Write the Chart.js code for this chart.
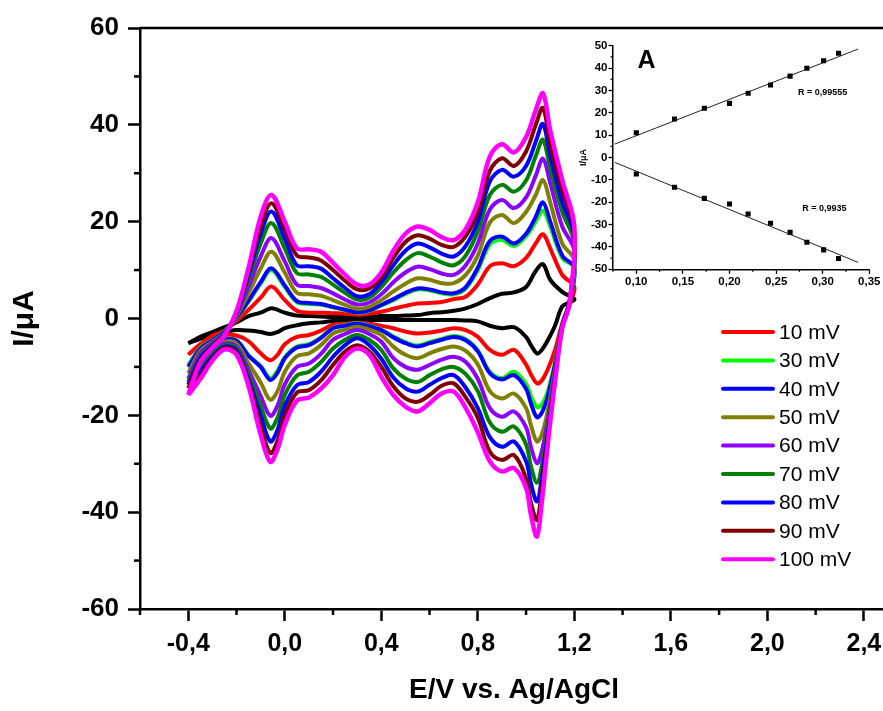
<!DOCTYPE html>
<html>
<head>
<meta charset="utf-8">
<script src="https://cdn.jsdelivr.net/npm/chart.js@4.4.1/dist/chart.umd.min.js"></script>
<style>
  html, body { margin: 0; padding: 0; background: #fff; overflow: hidden; }
  #wrap { position: relative; width: 883px; height: 711px; overflow: hidden; }
  #cv { position: absolute; left: 0; top: 0; }
  #inset { position: absolute; left: 560px; top: 36px; }
</style>
</head>
<body>
<div id="wrap">
  <canvas id="cv" width="900" height="711"></canvas>
  <canvas id="inset" width="323" height="260"></canvas>
</div>
<script>
// potentials (V) of the anodic (forward) and cathodic (reverse) sweeps
const fwdE = [-0.40, -0.35, -0.30, -0.25, -0.20, -0.15, -0.10, -0.055, 0.00, 0.05, 0.10, 0.15, 0.20, 0.25, 0.30, 0.35, 0.40, 0.45, 0.50, 0.55, 0.60, 0.65, 0.70, 0.75, 0.80, 0.85, 0.90, 0.95, 1.00, 1.04, 1.07, 1.10, 1.15, 1.20];
const revE = [1.18, 1.15, 1.12, 1.09, 1.065, 1.045, 1.02, 1.00, 0.95, 0.90, 0.85, 0.80, 0.75, 0.70, 0.65, 0.60, 0.55, 0.50, 0.45, 0.40, 0.35, 0.30, 0.25, 0.20, 0.15, 0.10, 0.05, 0.00, -0.03, -0.06, -0.10, -0.15, -0.20, -0.25, -0.30, -0.35, -0.40];

// currents (uA)
const fwdBlack = [-5.1, -3.8, -2.8, -1.8, -0.8, 0.5, 1.2, 2.1, 1.2, 0.6, 0.5, 0.4, 0.3, 0.3, 0.3, 0.4, 0.5, 0.5, 0.6, 0.7, 1.1, 1.3, 1.6, 2.1, 3.0, 4.2, 5.1, 5.4, 6.5, 9.8, 11.2, 8.0, 5.5, 4.0];
const revBlack = [3.3, 2.5, -1.5, -4.5, -6.5, -7.2, -5.5, -3.8, -1.8, -2.0, -1.5, -0.6, -0.4, -0.3, -0.3, -0.3, -0.3, -0.3, -0.3, -0.3, -0.3, -0.3, -0.4, -0.5, -0.8, -1.0, -1.4, -2.0, -2.8, -3.2, -2.8, -2.5, -2.4, -2.8, -3.4, -4.2, -5.1];

const fwd10 = [-7.5, -5.4, -3.5, -2.5, -0.5, 1.8, 4.3, 6.6, 3.8, 1.6, 1.2, 1.2, 1.1, 1.0, 0.8, 1.0, 1.4, 2.0, 2.6, 3.1, 3.2, 3.4, 4.0, 4.5, 7.0, 10.8, 11.4, 10.8, 12.5, 15.5, 17.4, 14.5, 9.0, 6.5];
const rev10 = [3.0, -1.0, -6.5, -10.5, -12.8, -13.4, -11.5, -9.5, -6.5, -7.5, -6.5, -3.8, -2.4, -2.0, -2.5, -2.9, -3.1, -2.7, -2.0, -1.5, -1.1, -0.9, -1.1, -1.3, -2.5, -3.4, -3.8, -5.3, -7.5, -8.6, -7.2, -4.7, -3.5, -3.4, -4.0, -5.3, -7.5];

const fwd30 = [-9.6, -6.0, -4.4, -2.6, 0.1, 3.5, 7.2, 10.0, 6.5, 3.4, 3.0, 2.9, 2.3, 1.7, 1.2, 1.6, 2.7, 3.8, 5.1, 6.0, 5.8, 5.2, 5.0, 6.2, 10.0, 15.3, 16.2, 15.0, 17.0, 20.0, 22.3, 19.0, 12.5, 10.5];
const rev30 = [3.4, -1.5, -9.0, -15.0, -17.8, -18.3, -16.0, -13.5, -11.0, -12.3, -11.0, -6.6, -4.3, -3.6, -4.2, -4.9, -5.6, -4.9, -3.7, -2.3, -1.5, -1.0, -1.4, -1.9, -3.9, -5.3, -5.8, -8.0, -10.8, -12.3, -9.8, -7.6, -4.5, -4.3, -5.6, -7.8, -9.6];

const fwd40 = [-10.0, -6.2, -4.5, -2.7, 0.2, 3.7, 7.5, 10.4, 6.8, 3.6, 3.2, 3.0, 2.4, 1.8, 1.3, 1.7, 2.8, 4.0, 5.3, 6.2, 6.0, 5.4, 5.2, 6.5, 10.5, 16.0, 16.9, 15.5, 17.5, 21.0, 24.0, 20.0, 13.0, 10.5];
const rev40 = [3.4, -1.5, -9.5, -16.0, -19.5, -20.4, -17.5, -14.5, -11.7, -12.6, -11.3, -6.8, -4.5, -3.8, -4.4, -5.1, -5.8, -5.1, -3.9, -2.4, -1.6, -1.1, -1.5, -2.0, -4.0, -5.5, -6.0, -8.2, -11.2, -12.7, -10.0, -7.7, -4.6, -4.4, -5.7, -8.0, -10.0];

const fwd50 = [-11.3, -6.7, -4.8, -2.9, 0.5, 5.2, 10.3, 13.8, 9.5, 5.3, 5.0, 4.7, 3.8, 2.8, 2.0, 2.4, 3.8, 5.6, 7.2, 8.3, 8.0, 7.3, 7.3, 9.0, 13.0, 19.8, 21.4, 19.7, 22.0, 25.5, 28.6, 24.0, 15.5, 12.0];
const rev50 = [3.4, -1.5, -10.5, -19.0, -24.0, -25.4, -22.0, -18.5, -15.5, -16.5, -15.0, -9.5, -6.7, -5.8, -6.3, -7.2, -8.2, -7.5, -5.8, -3.4, -2.3, -1.7, -2.3, -3.1, -5.5, -7.2, -7.8, -11.0, -15.0, -16.8, -13.2, -9.3, -5.2, -4.8, -6.4, -8.8, -11.3];

const fwd60 = [-12.4, -7.2, -5.0, -3.0, 0.8, 6.6, 12.8, 16.6, 11.8, 7.0, 6.7, 6.3, 5.2, 3.9, 2.9, 3.3, 5.0, 7.5, 9.5, 10.7, 10.2, 9.3, 9.0, 11.0, 15.5, 22.5, 24.5, 22.8, 25.0, 29.5, 33.0, 28.0, 19.0, 14.0];
const rev60 = [3.4, -1.5, -11.0, -21.0, -27.5, -29.9, -26.5, -22.5, -19.2, -20.3, -18.5, -12.5, -9.0, -7.9, -8.5, -9.6, -10.6, -10.0, -8.2, -4.8, -3.2, -2.4, -3.2, -4.4, -7.3, -9.3, -10.0, -13.6, -18.0, -20.1, -16.0, -10.7, -5.8, -5.2, -6.9, -9.7, -12.4];

const fwd70 = [-13.1, -7.8, -5.3, -3.2, 1.0, 8.0, 15.5, 19.7, 14.5, 9.4, 9.1, 8.6, 7.0, 5.3, 3.9, 4.3, 6.5, 9.5, 12.0, 13.5, 12.8, 11.6, 11.0, 13.0, 18.0, 25.5, 27.6, 26.2, 28.5, 33.5, 36.9, 31.0, 22.0, 15.5];
const rev70 = [3.4, -1.5, -11.5, -22.5, -30.5, -33.9, -30.5, -26.0, -22.3, -23.4, -21.5, -15.0, -11.5, -10.0, -10.5, -11.7, -13.1, -12.4, -10.3, -6.5, -4.4, -3.4, -4.4, -6.2, -9.0, -11.0, -11.8, -15.8, -20.5, -22.7, -18.0, -11.7, -6.2, -5.5, -7.4, -10.5, -13.1];

const fwd80 = [-13.7, -8.2, -5.6, -3.3, 1.2, 9.0, 17.5, 22.1, 16.5, 11.0, 10.8, 10.3, 8.3, 6.3, 4.6, 5.0, 7.5, 11.0, 14.0, 15.5, 14.7, 13.4, 12.8, 15.0, 20.0, 28.3, 30.7, 29.3, 31.5, 36.5, 40.2, 33.5, 24.0, 17.0];
const rev80 = [3.3, -1.6, -12.0, -24.0, -33.0, -37.8, -34.0, -29.5, -25.4, -26.5, -24.5, -18.5, -14.3, -11.7, -12.3, -13.7, -15.1, -14.4, -12.2, -8.3, -5.5, -4.1, -5.5, -7.9, -11.0, -13.1, -13.8, -18.0, -23.0, -25.4, -20.0, -12.6, -6.6, -5.8, -7.9, -11.0, -13.7];

const fwd90 = [-14.4, -8.6, -5.8, -3.4, 1.3, 9.8, 19.0, 23.8, 18.5, 13.0, 12.6, 12.0, 10.0, 7.8, 6.0, 6.2, 8.5, 12.5, 15.8, 17.2, 16.5, 15.2, 14.8, 17.0, 22.0, 30.5, 33.1, 31.5, 34.5, 40.0, 43.5, 36.0, 26.5, 18.0];
const rev90 = [3.3, -1.8, -12.5, -25.0, -35.5, -41.6, -38.0, -33.0, -28.2, -29.2, -27.5, -20.5, -16.3, -13.4, -13.9, -15.8, -17.2, -16.5, -14.0, -10.0, -6.8, -5.5, -6.8, -9.6, -12.8, -14.8, -15.3, -20.0, -25.3, -27.8, -22.0, -13.3, -7.0, -6.1, -8.3, -11.7, -14.4];

const fwd100 = [-15.8, -9.0, -6.0, -3.5, 1.5, 10.5, 21.0, 25.5, 20.0, 14.5, 14.3, 13.8, 11.5, 9.0, 7.0, 7.0, 9.5, 14.0, 17.5, 19.0, 18.3, 16.8, 16.2, 18.5, 24.0, 33.5, 36.0, 34.3, 37.5, 43.0, 46.5, 38.9, 28.6, 19.0];
const rev100 = [3.0, -2.0, -13.0, -26.0, -38.0, -45.0, -40.5, -35.0, -30.9, -31.6, -29.5, -23.5, -18.5, -15.1, -15.5, -17.5, -19.2, -18.2, -15.8, -12.0, -7.5, -6.2, -7.9, -11.7, -14.5, -16.3, -17.0, -22.0, -27.0, -29.6, -24.0, -14.0, -7.5, -6.4, -8.7, -12.5, -15.8];

const scanNames = ['10 mV', '30 mV', '40 mV', '50 mV', '60 mV', '70 mV', '80 mV', '90 mV', '100 mV'];
const scanColors = ['#ff0000', '#00ff00', '#0000ff', '#808000', '#8c00ff', '#008000', '#0000ff', '#800000', '#ff00ff'];

// main axis ticks (labelled ones are the majors)
const eTicks = [-0.6, -0.4, -0.2, 0.0, 0.2, 0.4, 0.6, 0.8, 1.0, 1.2, 1.4, 1.6, 1.8, 2.0, 2.2, 2.4];
const eLabels = ['', '-0,4', '', '0,0', '', '0,4', '', '0,8', '', '1,2', '', '1,6', '', '2,0', '', '2,4'];
const iTicks = [-60, -50, -40, -30, -20, -10, 0, 10, 20, 30, 40, 50, 60];
const iLabels = ['-60', '', '-40', '', '-20', '', '0', '', '20', '', '40', '', '60'];

// inset: peak current vs square root of scan rate
const rootScan = [0.100, 0.141, 0.173, 0.200, 0.220, 0.244, 0.265, 0.283, 0.301, 0.317];
const anodicPeak = [11.1, 17.2, 22.0, 24.2, 28.7, 32.4, 36.4, 39.9, 43.3, 46.6];
const cathodicPeak = [-7.4, -13.3, -18.3, -20.8, -25.3, -29.4, -33.5, -37.9, -41.3, -45.2];
const fitX = [0.077, 0.338];
const anodicFit = [6.0, 48.5];
const cathodicFit = [-2.2, -46.9];
const rTicks = [0.075, 0.100, 0.125, 0.150, 0.175, 0.200, 0.225, 0.250, 0.275, 0.300, 0.325, 0.350];
const rLabels = ['', '0,10', '', '0,15', '', '0,20', '', '0,25', '', '0,30', '', '0,35'];
const pTicks = [-50, -45, -40, -35, -30, -25, -20, -15, -10, -5, 0, 5, 10, 15, 20, 25, 30, 35, 40, 45, 50];
const pLabels = pTicks.map(v => v % 10 === 0 ? String(v) : '');

const FONT = "'Liberation Sans', Arial, sans-serif";
Chart.defaults.font.family = FONT;
Chart.defaults.color = '#000';

function loop(fw, rv) {
  return fwdE.map((e, i) => ({x: e, y: fw[i]}))
    .concat(revE.map((e, i) => ({x: e, y: rv[i]})));
}

const curves = [
  [fwd10, rev10], [fwd30, rev30], [fwd40, rev40], [fwd50, rev50], [fwd60, rev60],
  [fwd70, rev70], [fwd80, rev80], [fwd90, rev90], [fwd100, rev100]
];

// first dataset is drawn on top, so go from 100 mV down to the black one
const datasets = [];
for (let i = curves.length - 1; i >= 0; i--) {
  datasets.push({
    label: scanNames[i],
    data: loop(curves[i][0], curves[i][1]),
    borderColor: scanColors[i],
    borderWidth: i === curves.length - 1 ? 4.5 : 4
  });
}
datasets.push({label: '', data: loop(fwdBlack, revBlack), borderColor: '#000', borderWidth: 4});
datasets.forEach(d => {
  d.showLine = true;
  d.pointRadius = 0;
  d.tension = 0.35;
  d.fill = false;
});

// fixed tick lists; unlabelled ticks are minor ones
function fixTicks(values) {
  return scale => { scale.ticks = values.map(v => ({value: v})); };
}
function labelOf(values, labels) {
  return (v, i) => labels[i];
}
function isMinor(labels) {
  return c => labels[c.index] === '';
}

// short minor ticks + frame lines
const minorTicks = {
  id: 'minorTicks',
  afterDraw(chart, args, opts) {
    const ctx = chart.ctx;
    const xs = chart.scales.x, ys = chart.scales.y;
    ctx.save();
    ctx.strokeStyle = '#000';
    ctx.lineWidth = opts.width;
    xs.ticks.forEach((t, i) => {
      if (opts.xLabels[i] !== '') return;
      const px = xs.getPixelForValue(t.value);
      ctx.beginPath();
      ctx.moveTo(px, xs.top);
      ctx.lineTo(px, xs.top + opts.len);
      ctx.stroke();
    });
    ys.ticks.forEach((t, i) => {
      if (opts.yLabels[i] !== '') return;
      const py = ys.getPixelForValue(t.value);
      ctx.beginPath();
      ctx.moveTo(ys.right, py);
      ctx.lineTo(ys.right - opts.len, py);
      ctx.stroke();
    });
    if (opts.frame) {
      const a = chart.chartArea;
      ctx.lineWidth = opts.frame;
      ctx.beginPath();
      ctx.moveTo(a.left, a.top);
      ctx.lineTo(a.right, a.top);
      ctx.lineTo(a.right, a.bottom);
      ctx.stroke();
    }
    ctx.restore();
  }
};

const legendBox = {
  id: 'legendBox',
  afterDraw(chart) {
    const ctx = chart.ctx;
    ctx.save();
    ctx.font = '21px ' + FONT;
    ctx.textBaseline = 'middle';
    ctx.fillStyle = '#000';
    scanNames.forEach((name, i) => {
      const y = 332 + i * 28.4;
      ctx.strokeStyle = scanColors[i];
      ctx.lineWidth = 4;
      ctx.lineCap = 'round';
      ctx.beginPath();
      ctx.moveTo(723, y);
      ctx.lineTo(773, y);
      ctx.stroke();
      ctx.fillText(name, 779, y + 1);
    });
    ctx.restore();
  }
};

new Chart(document.getElementById('cv').getContext('2d'), {
  type: 'scatter',
  data: {datasets: datasets},
  options: {
    responsive: false,
    animation: false,
    devicePixelRatio: 1,
    layout: {padding: {top: 28, right: 12, left: 0, bottom: 0}},
    plugins: {
      legend: {display: false},
      tooltip: {enabled: false},
      minorTicks: {width: 2.5, len: 6, xLabels: eLabels, yLabels: iLabels, frame: 2.5}
    },
    scales: {
      x: {
        type: 'linear',
        min: -0.6,
        max: 2.5,
        afterBuildTicks: fixTicks(eTicks),
        afterFit: s => { s.height = 102; },
        border: {color: '#000', width: 2.5},
        grid: {
          drawOnChartArea: false,
          tickLength: 12,
          tickWidth: 2.5,
          tickColor: c => isMinor(eLabels)(c) ? 'rgba(0,0,0,0)' : '#000'
        },
        ticks: {
          autoSkip: false,
          maxRotation: 0,
          padding: 8,
          font: {size: 25, weight: 'bold'},
          callback: labelOf(eTicks, eLabels)
        },
        title: {
          display: true,
          text: 'E/V vs. Ag/AgCl',
          font: {size: 28, weight: 'bold'},
          padding: {top: 0, bottom: 4}
        }
      },
      y: {
        min: -60,
        max: 60,
        afterBuildTicks: fixTicks(iTicks),
        afterFit: s => { s.width = 140; },
        border: {color: '#000', width: 2.5},
        grid: {
          drawOnChartArea: false,
          tickLength: 12,
          tickWidth: 2.5,
          tickColor: c => isMinor(iLabels)(c) ? 'rgba(0,0,0,0)' : '#000'
        },
        ticks: {
          autoSkip: false,
          padding: 9,
          font: {size: 26, weight: 'bold'},
          callback: labelOf(iTicks, iLabels)
        },
        title: {
          display: true,
          text: 'I/μA',
          font: {size: 30, weight: 'bold'},
          padding: {top: 7, bottom: 0}
        }
      }
    }
  },
  plugins: [minorTicks, legendBox]
});

// ---- inset ----
const insetText = {
  id: 'insetText',
  afterDraw(chart) {
    const ctx = chart.ctx;
    const xs = chart.scales.x, ys = chart.scales.y;
    ctx.save();
    ctx.fillStyle = '#000';
    ctx.textAlign = 'center';
    ctx.font = 'bold 25px ' + FONT;
    ctx.textBaseline = 'alphabetic';
    ctx.fillText('A', xs.getPixelForValue(0.111), ys.getPixelForValue(40));
    ctx.font = 'bold 9px ' + FONT;
    ctx.textBaseline = 'middle';
    ctx.fillText('R = 0,99555', xs.getPixelForValue(0.300), ys.getPixelForValue(29.1));
    ctx.fillText('R = 0,9935', xs.getPixelForValue(0.3017), ys.getPixelForValue(-22.8));
    ctx.restore();
  }
};

new Chart(document.getElementById('inset').getContext('2d'), {
  type: 'scatter',
  data: {
    datasets: [
      {data: rootScan.map((x, i) => ({x: x, y: anodicPeak[i]})), pointStyle: 'rect', pointRadius: 3.6, backgroundColor: '#000', borderWidth: 0},
      {data: rootScan.map((x, i) => ({x: x, y: cathodicPeak[i]})), pointStyle: 'rect', pointRadius: 3.6, backgroundColor: '#000', borderWidth: 0},
      {data: fitX.map((x, i) => ({x: x, y: anodicFit[i]})), showLine: true, pointRadius: 0, borderColor: '#222', borderWidth: 1},
      {data: fitX.map((x, i) => ({x: x, y: cathodicFit[i]})), showLine: true, pointRadius: 0, borderColor: '#222', borderWidth: 1}
    ]
  },
  options: {
    responsive: false,
    animation: false,
    devicePixelRatio: 1,
    layout: {padding: {top: 9.7, right: 13.7, left: 0, bottom: 0}},
    plugins: {
      legend: {display: false},
      tooltip: {enabled: false},
      minorTicks: {width: 1.3, len: 2.5, xLabels: rLabels, yLabels: pLabels, frame: 0}
    },
    scales: {
      x: {
        type: 'linear',
        min: 0.075,
        max: 0.35,
        afterBuildTicks: fixTicks(rTicks),
        afterFit: s => { s.height = 26.7; },
        border: {color: '#000', width: 1.5},
        grid: {
          drawOnChartArea: false,
          tickLength: 4.5,
          tickWidth: 1.3,
          tickColor: c => isMinor(rLabels)(c) ? 'rgba(0,0,0,0)' : '#000'
        },
        ticks: {
          autoSkip: false,
          maxRotation: 0,
          padding: 1,
          font: {size: 11.5, weight: 'bold'},
          callback: labelOf(rTicks, rLabels)
        }
      },
      y: {
        min: -50,
        max: 50,
        afterBuildTicks: fixTicks(pTicks),
        afterFit: s => { s.width = 53; },
        border: {color: '#000', width: 1.5},
        grid: {
          drawOnChartArea: false,
          tickLength: 4.5,
          tickWidth: 1.3,
          tickColor: c => isMinor(pLabels)(c) ? 'rgba(0,0,0,0)' : '#000'
        },
        ticks: {
          autoSkip: false,
          padding: 1,
          font: {size: 11.5, weight: 'bold'},
          callback: labelOf(pTicks, pLabels)
        },
        title: {
          display: true,
          text: 'I/μA',
          font: {size: 9, weight: 'bold'},
          padding: {top: 18, bottom: 0}
        }
      }
    }
  },
  plugins: [minorTicks, insetText]
});
</script>
</body>
</html>
